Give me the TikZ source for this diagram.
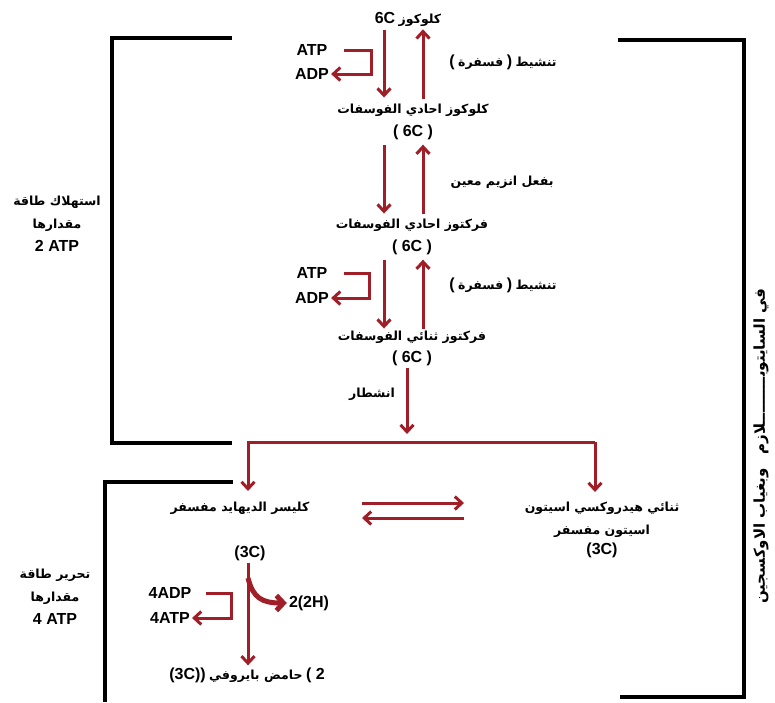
\documentclass[tikz,border=0pt]{standalone}
\usepackage{fontspec}
\setmainfont{Liberation Sans}
\newfontfamily\arabicfont[Script=Arabic]{DejaVu Sans}
\TeXXeTstate=1
\usetikzlibrary{arrows.meta,positioning}
\definecolor{darkred}{RGB}{160,30,40}
\newcommand{\arb}[1]{{\arabicfont\bfseries\beginR #1\endR}}
\newcommand{\lt}[1]{{\fontsize{16}{23}\selectfont\bfseries #1}}

\begin{document}
\begin{tikzpicture}[x=1pt,y=1pt,
  redarrow/.style={draw=darkred, line width=3pt, -{Straight Barb[length=7pt,width=13pt]}},
  bigarrow/.style={draw=darkred, line width=5pt, -{Straight Barb[length=7pt,width=15pt]}},
  bracket/.style={draw=black, line width=3.8pt},
  lat/.style={font=\fontsize{16}{23}\selectfont\bfseries, inner sep=2pt},
  ara/.style={font=\fontsize{12.5}{23}\selectfont, inner sep=2pt, align=center}]
\useasboundingbox (0,0) rectangle (775,-702);

% brackets
\draw[bracket] (232,-38) -- (112,-38) -- (112,-443) -- (232,-443);
\draw[bracket] (233,-482) -- (105,-482) -- (105,-702);
\draw[bracket] (618,-40) -- (744,-40) -- (744,-697) -- (620,-697);

% main column
\node (glc) [ara] at (408,-19) {\lt{6C} \arb{كلوكوز}};
\node (g6p) [ara] at (413,-110) {\arb{كلوكوز احادي الفوسفات}};
\node (g6pc)[lat, below of=g6p, node distance=22pt] {( 6C )};
\node (f6p) [ara] at (412,-225) {\arb{فركتوز احادي الفوسفات}};
\node (f6pc)[lat, below of=f6p, node distance=22pt] {( 6C )};
\node (fbp) [ara] at (412,-337) {\arb{فركتوز ثنائي الفوسفات}};
\node (fbpc)[lat, below of=fbp, node distance=21pt] {( 6C )};

\node (act1) [ara] at (503,-62) {\lt{(} \arb{فسفرة} \lt{)} \arb{تنشيط}};
\node (enz)  [ara] at (502,-182) {\arb{بفعل انزيم معين}};
\node (act2) [ara] at (503,-285) {\lt{(} \arb{فسفرة} \lt{)} \arb{تنشيط}};
\node (split)[ara] at (372,-394) {\arb{انشطار}};

\node (atp1) [lat] at (312,-50) {ATP};
\node (adp1) [lat, below of=atp1, node distance=24pt] {ADP};
\node (atp2) [lat] at (312,-273) {ATP};
\node (adp2) [lat, below of=atp2, node distance=25pt] {ADP};

\coordinate (dn) at (384,0);
\coordinate (up) at (423,0);
\draw[redarrow] ([yshift=-2pt]glc.south -| dn) -- ([yshift=4pt]g6p.north -| dn);
\draw[redarrow] ([yshift=3pt]g6p.north -| up) -- ([yshift=-1pt]glc.south -| up);
\draw[redarrow] ([yshift=-3pt]g6pc.south -| dn) -- ([yshift=3pt]f6p.north -| dn);
\draw[redarrow] ([yshift=3pt]f6p.north -| up) -- ([yshift=-3pt]g6pc.south -| up);
\draw[redarrow] ([yshift=-3pt]f6pc.south -| dn) -- (fbp.north -| dn);
\draw[redarrow] (fbp.north -| up) -- ([yshift=-3pt]f6pc.south -| up);

\draw[redarrow] ([xshift=14pt]atp1.east) -- ([xshift=42pt]atp1.east) |- (adp1.east);
\draw[redarrow] ([xshift=14pt]atp2.east) -- ([xshift=40pt]atp2.east) |- (adp2.east);

% split
\coordinate (splitx) at (407,-442);
\coordinate (lbranch) at (248,-442);
\coordinate (rbranch) at (595,-442);
\draw[redarrow, shorten >=8pt] (fbpc.south -| splitx) -- (splitx);
\draw[redarrow] (rbranch) -- (lbranch) -- (248,-491);
\draw[redarrow] (rbranch) -- (595,-492);

% three carbon products
\node (gald) [ara] at (240,-508) {\arb{كليسر الديهايد مفسفر}};
\node (galdc)[lat] at (250,-553) {(3C)};
\node (dhap) [ara] at (602,-530) {\arb{ثنائي هيدروكسي اسيتون}\\\arb{اسيتون مفسفر}\\[-3pt]\lt{(3C)}};
\coordinate (eqL) at (362,-511);
\coordinate (eqR) at (464,-511);
\draw[redarrow] ([yshift=8pt]eqL) -- ([yshift=8pt]eqR);
\draw[redarrow] ([yshift=-7pt]eqR) -- ([yshift=-7pt]eqL);

% energy release
\node (pyr) [ara] at (247,-675) {\lt{(3C))} \arb{حامض بايروفي} \lt{( 2}};
\draw[redarrow] (galdc.south -| 248,0) -- (pyr.north -| 248,0);
\coordinate (branch) at (248,-578);
\node (hyd) [lat] at (309,-603) {2(2H)};
\draw[bigarrow] (branch) .. controls (253,-598) and (262,-603) .. (hyd.west);
\node (adp4) [lat] at (170,-593) {4ADP};
\node (atp4) [lat, below of=adp4, node distance=25pt] {4ATP};
\draw[redarrow] ([xshift=12pt]adp4.east) -- ([xshift=38pt]adp4.east) |- (atp4.east);

% side labels
\node (use) [ara] at (57,-224) {\arb{استهلاك طاقة}\\\arb{مقدارها}\\\lt{2 ATP}};
\node (rel) [ara] at (55,-597) {\arb{تحرير طاقة}\\\arb{مقدارها}\\\lt{4 ATP}};
\node (cyto) [ara, font=\fontsize{15}{18}\selectfont, rotate=90] at (761,-446)
  {\arb{في السايتوبـــــــــلازم\hspace{14pt}وبغياب الاوكسجين}};
\end{tikzpicture}
\end{document}
